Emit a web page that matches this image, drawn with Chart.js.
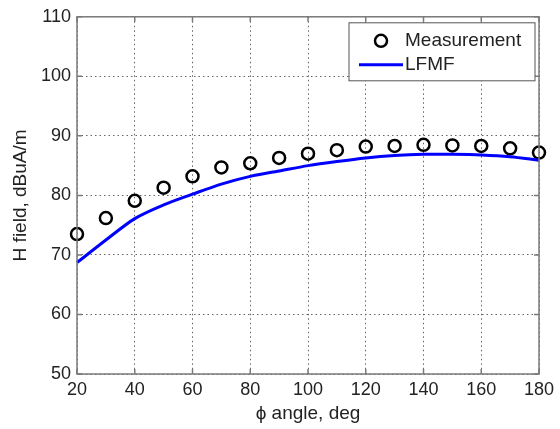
<!DOCTYPE html>
<html>
<head>
<meta charset="utf-8">
<script src="https://cdn.jsdelivr.net/npm/chart.js@4"></script>
<style>
  html, body { margin: 0; padding: 0; background: #fff; }
  #wrap { width: 560px; height: 429px; }
</style>
</head>
<body>
<div id="wrap"><canvas id="myChart"></canvas></div>
<script>
// angles, deg
const angles = [20, 30, 40, 50, 60, 70, 80, 90, 100, 110, 120, 130, 140, 150, 160, 170, 180];
// measured H field, dBuA/m
const measurement = [73.5, 76.2, 79.1, 81.3, 83.2, 84.7, 85.4, 86.3, 87.0, 87.6, 88.2, 88.3, 88.5, 88.4, 88.3, 87.9, 87.2];
// LFMF prediction
const lfmf = [68.7, 72.5, 76.1, 78.4, 80.2, 81.9, 83.2, 84.1, 85.0, 85.7, 86.3, 86.7, 86.9, 86.9, 86.8, 86.5, 85.9];
const xTicks = [20, 40, 60, 80, 100, 120, 140, 160, 180];
const yTicks = [50, 60, 70, 80, 90, 100, 110];

const FONT = '"Liberation Sans", Arial, sans-serif';

let ctx = document.getElementById('myChart');

// box round the plot, small inner ticks and the legend
const frame = {
  id: 'frame',
  afterDraw(chart) {
    const c = chart.ctx;
    const a = chart.chartArea;
    const xs = chart.scales.x, ys = chart.scales.y;
    c.save();
    c.strokeStyle = '#7a7a7a';
    c.lineWidth = 1.5;
    c.strokeRect(a.left, a.top, a.right - a.left, a.bottom - a.top);
    c.beginPath();
    xTicks.forEach(v => {
      const p = xs.getPixelForValue(v);
      c.moveTo(p, a.bottom); c.lineTo(p, a.bottom - 5);
      c.moveTo(p, a.top); c.lineTo(p, a.top + 5);
    });
    yTicks.forEach(v => {
      const p = ys.getPixelForValue(v);
      c.moveTo(a.left, p); c.lineTo(a.left + 5, p);
      c.moveTo(a.right, p); c.lineTo(a.right - 5, p);
    });
    c.stroke();

    // legend
    const lx = a.right - 190, ly = a.top + 6, lw = 186, lh = 58;
    c.fillStyle = '#fff';
    c.fillRect(lx, ly, lw, lh);
    c.strokeStyle = '#555';
    c.lineWidth = 1;
    c.strokeRect(lx, ly, lw, lh);
    c.beginPath();
    c.lineWidth = 2.5;
    c.strokeStyle = '#000';
    c.arc(lx + 32, ly + 18, 6, 0, Math.PI * 2);
    c.stroke();
    c.beginPath();
    c.strokeStyle = '#0000ff';
    c.lineWidth = 3;
    c.moveTo(lx + 10, ly + 42); c.lineTo(lx + 54, ly + 42);
    c.stroke();
    c.fillStyle = '#222';
    c.font = '19px ' + FONT;
    c.textBaseline = 'middle';
    c.fillText('Measurement', lx + 56, ly + 18);
    c.fillText('LFMF', lx + 56, ly + 42);
    c.restore();
  }
};

const myChart = new Chart(ctx, {
  type: 'scatter',
  data: {
    datasets: [{
      label: 'LFMF',
      type: 'line',
      data: angles.map((a, i) => ({ x: a, y: lfmf[i] })),
      borderColor: '#0000ff',
      borderWidth: 3,
      pointRadius: 0,
      tension: 0.3,
      fill: false,
      clip: false
    }, {
      label: 'Measurement',
      data: angles.map((a, i) => ({ x: a, y: measurement[i] })),
      pointRadius: 6,
      pointBorderWidth: 2.5,
      pointBorderColor: '#000',
      pointBackgroundColor: 'rgba(0,0,0,0)',
      clip: false
    }]
  },
  options: {
    responsive: true,
    maintainAspectRatio: false,
    animation: false,
    layout: { padding: { left: 0, right: 21, top: 12, bottom: 0 } },
    scales: {
      x: {
        type: 'linear',
        min: 20, max: 180,
        afterBuildTicks: s => { s.ticks = xTicks.map(v => ({ value: v })); },
        afterFit: s => { s.height = 55; },
        grid: { color: '#666', drawTicks: false, lineWidth: 1 },
        border: { display: false, dash: [1.5, 3] },
        ticks: { color: '#222', font: { family: FONT, size: 18 }, padding: 5 },
        title: { display: true, text: '\u03d5 angle, deg', color: '#222', font: { family: FONT, size: 19 }, padding: { top: 0 } }
      },
      y: {
        min: 50, max: 110,
        afterBuildTicks: s => { s.ticks = yTicks.map(v => ({ value: v })); },
        afterFit: s => { s.width = 77; },
        grid: { color: '#666', drawTicks: false, lineWidth: 1 },
        border: { display: false, dash: [1.5, 3] },
        ticks: { color: '#222', font: { family: FONT, size: 18 }, padding: 6 },
        title: { display: true, text: 'H field, dBuA/m', color: '#222', font: { family: FONT, size: 19 }, padding: { top: 9, bottom: 2 } }
      }
    },
    plugins: {
      legend: { display: false },
      tooltip: { enabled: false }
    }
  },
  plugins: [frame]
});
</script>
</body>
</html>
